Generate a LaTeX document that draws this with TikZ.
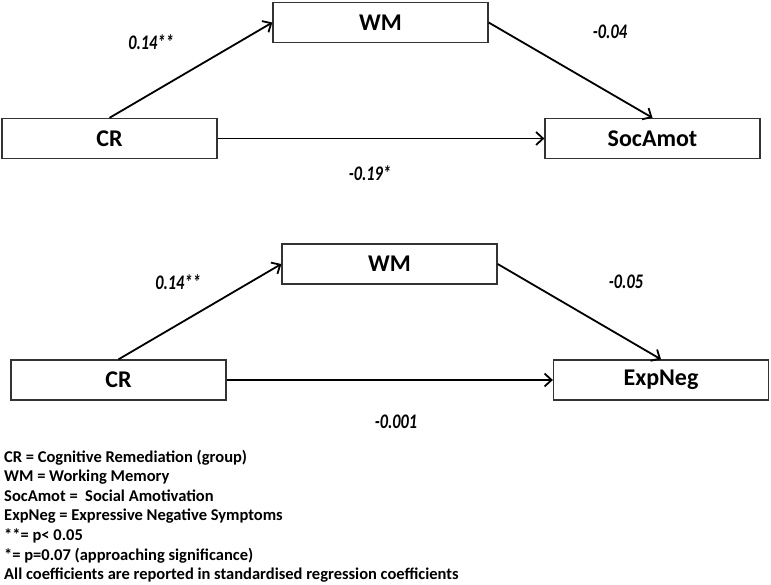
\documentclass[tikz,border=0pt]{standalone}
\usepackage{fontspec}
\setmainfont{Carlito}
\usetikzlibrary{arrows.meta}
\newcommand{\coeftext}[1]{\scalebox{0.88}[1.12]{#1}}
\begin{document}
\begin{tikzpicture}[x=1pt,y=-1pt,
  box/.style={draw=black!80, line width=1.3pt, minimum width=215pt, minimum height=40pt, inner sep=0pt, fill=white, font=\fontsize{24}{28}\selectfont\bfseries},
  conn/.style={line width=1.8pt, -{Straight Barb[length=7pt,width=13pt,line width=1.8pt]}},
  coef/.style={inner sep=0pt, font=\fontsize{18.5}{22}\selectfont\bfseries\itshape},
  legline/.style={anchor=base west, inner sep=0pt, font=\fontsize{16.5}{19}\selectfont\bfseries}]
\useasboundingbox (0,0) rectangle (771,585);
% top model
\node[box] (cr1) at (109.5,138.5) {CR};
\node[box] (wm1) at (380.5,22.5) {WM};
\node[box] (sa) at (652.5,138.5) {SocAmot};
\draw[conn] (cr1.north) -- (wm1.west);
\draw[conn] (wm1.east) -- (sa.north);
\draw[conn] (cr1.east) -- (sa.west);
\node[coef] (a1) at (151,42) {\coeftext{0.14**}};
\node[coef] (b1) at (610,32) {\coeftext{-0.04}};
\node[coef] (c1) at (370,173) {\coeftext{-0.19*}};
% bottom model
\node[box] (cr2) at (118.5,380) {CR};
\node[box] (wm2) at (389.5,264) {WM};
\node[box] (en) at (661,380) {ExpNeg};
\draw[conn] (cr2.north) -- (wm2.west);
\draw[conn] (wm2.east) -- (en.north);
\draw[conn] (cr2.east) -- (en.west);
\node[coef] (a2) at (178,282) {\coeftext{0.14**}};
\node[coef] (b2) at (626,282) {\coeftext{-0.05}};
\node[coef] (c2) at (396,422) {\coeftext{-0.001}};
% legend
\node[legline] (l1) at (4,462) {CR = Cognitive Remediation (group)};
\node[legline] (l2) at (4,481.6) {WM = Working Memory};
\node[legline] (l3) at (4,501.3) {SocAmot = \ Social Amotivation};
\node[legline] (l4) at (4,520.9) {ExpNeg = Expressive Negative Symptoms};
\node[legline] (l5) at (4,540.6) {**= p< 0.05};
\node[legline] (l6) at (4,560.2) {*= p=0.07 (approaching significance)};
\node[legline] (l7) at (4,579.9) {All coefficients are reported in standardised regression coefficients};
\end{tikzpicture}
\end{document}
